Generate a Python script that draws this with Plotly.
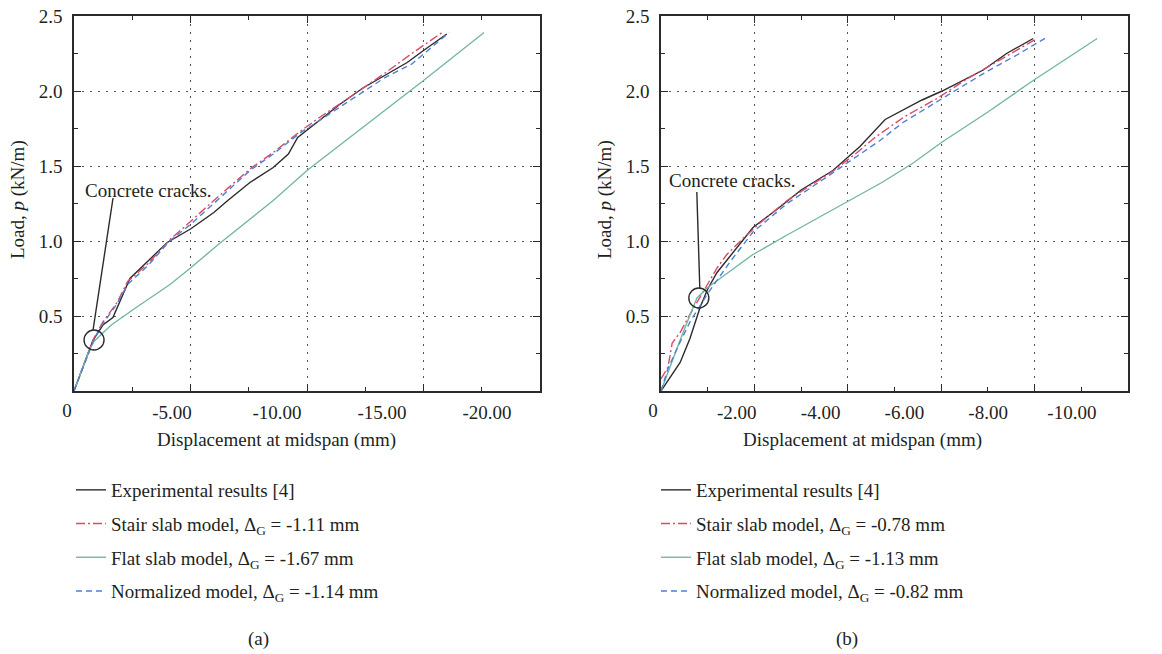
import plotly.graph_objects as go

# ---- data (displacement in mm, load in kN/m) ----
# panel (a)
exp_a_x = [0, -0.3, -0.6, -0.82, -1.24, -1.67, -2.4, -3.2, -4.0, -5.0, -6.0, -6.6, -7.55, -8.55, -9.2, -9.6, -10.4, -11.4, -12.4, -13.4, -14.3, -15.0, -16.0]
exp_a_y = [0, 0.13, 0.25, 0.34, 0.44, 0.49, 0.75, 0.87, 0.99, 1.08, 1.19, 1.27, 1.39, 1.49, 1.58, 1.69, 1.79, 1.91, 2.02, 2.11, 2.19, 2.27, 2.38]
stair_a_x = [0, -0.3, -0.6, -0.85, -1.24, -1.85, -2.3, -3.18, -4.12, -5.0, -6.0, -7.55, -8.55, -9.7, -10.5, -11.85, -13.35, -14.5, -15.8]
stair_a_y = [0, 0.13, 0.25, 0.35, 0.46, 0.59, 0.73, 0.85, 1.01, 1.13, 1.27, 1.48, 1.59, 1.73, 1.82, 1.96, 2.12, 2.25, 2.39]
flat_a_x = [0, -0.3, -0.6, -0.85, -1.24, -1.6, -2.7, -4.12, -5.0, -6.14, -8.55, -10.0, -12.5, -15.0, -17.6]
flat_a_y = [0, 0.13, 0.25, 0.33, 0.39, 0.44, 0.56, 0.71, 0.82, 0.97, 1.27, 1.47, 1.77, 2.07, 2.39]
norm_a_x = [0, -0.3, -0.6, -0.85, -1.2, -1.8, -2.3, -3.2, -4.1, -5.0, -6.0, -7.55, -8.55, -9.7, -10.5, -11.85, -13.35, -14.5, -16.1]
norm_a_y = [0, 0.12, 0.24, 0.34, 0.44, 0.57, 0.71, 0.84, 1.0, 1.11, 1.25, 1.47, 1.58, 1.72, 1.8, 1.94, 2.09, 2.18, 2.39]

# panel (b)
exp_b_x = [0, -0.41, -0.62, -0.84, -1.0, -1.2, -1.97, -2.48, -3.0, -3.68, -4.26, -4.8, -5.59, -6.02, -6.9, -7.4, -7.97]
exp_b_y = [0, 0.19, 0.35, 0.56, 0.68, 0.79, 1.09, 1.21, 1.34, 1.47, 1.63, 1.81, 1.94, 2.0, 2.14, 2.25, 2.35]
stair_b_x = [0, -0.15, -0.24, -0.41, -0.6, -0.9, -1.2, -1.41, -1.73, -2.12, -2.7, -3.2, -3.7, -4.2, -4.58, -5.22, -5.91, -6.55, -7.26, -8.05]
stair_b_y = [0.08, 0.16, 0.32, 0.39, 0.5, 0.66, 0.82, 0.91, 1.01, 1.12, 1.27, 1.37, 1.47, 1.59, 1.69, 1.83, 1.95, 2.08, 2.21, 2.35]
flat_b_x = [0, -0.2, -0.41, -0.6, -0.77, -1.0, -1.26, -1.97, -2.7, -3.4, -4.05, -4.73, -5.4, -6.02, -7.0, -7.97, -9.34]
flat_b_y = [0, 0.17, 0.34, 0.49, 0.62, 0.69, 0.75, 0.91, 1.04, 1.16, 1.27, 1.39, 1.52, 1.66, 1.86, 2.07, 2.35]
norm_b_x = [0, -0.15, -0.4, -0.62, -1.0, -1.5, -1.97, -2.7, -3.47, -4.33, -4.69, -5.18, -5.7, -6.34, -6.98, -7.62, -8.27]
norm_b_y = [0, 0.15, 0.32, 0.46, 0.65, 0.87, 1.06, 1.25, 1.41, 1.59, 1.67, 1.79, 1.89, 2.01, 2.13, 2.24, 2.36]

crack_a = (-0.86, 0.34)
crack_b = (-0.81, 0.62)

delta_a = ['-1.11', '-1.67', '-1.14']
delta_b = ['-0.78', '-1.13', '-0.82']

xticks_a = [0, -5, -10, -15, -20]
xticks_b = [0, -2, -4, -6, -8, -10]
yticks = [0, 0.5, 1.0, 1.5, 2.0, 2.5]

FONT = "Liberation Serif"
TXT = "#231f20"
BLACK = "#2b2b2b"
RED = "#d94a66"
GREEN = "#74b6a5"
BLUE = "#4f80d2"

W, H = 1162, 654


def px_x(p):
    return p / W


def px_y(p):
    return 1 - p / H


def fmt_x(v):
    return '0' if v == 0 else f'{v:.2f}'


fig = go.Figure()


def add_series(xs, ys, name, color, dash, xa, ya, legend):
    fig.add_trace(go.Scatter(
        x=xs, y=ys, name=name, mode='lines', xaxis=xa, yaxis=ya, legend=legend,
        legendgroup=f'{legend}-{name}',
        line=dict(color=color, width=1.4, dash=dash),
    ))


add_series(exp_a_x, exp_a_y, 'Experimental results [4]', BLACK, 'solid', 'x', 'y', 'legend')
add_series(stair_a_x, stair_a_y, f'Stair slab model, Δ<sub>G</sub> = {delta_a[0]} mm', RED, '9px,3px,2px,3px', 'x', 'y', 'legend')
add_series(flat_a_x, flat_a_y, f'Flat slab model, Δ<sub>G</sub> = {delta_a[1]} mm', GREEN, 'solid', 'x', 'y', 'legend')
add_series(norm_a_x, norm_a_y, f'Normalized model, Δ<sub>G</sub> = {delta_a[2]} mm', BLUE, '6px,4px', 'x', 'y', 'legend')

add_series(exp_b_x, exp_b_y, 'Experimental results [4]', BLACK, 'solid', 'x2', 'y2', 'legend2')
add_series(stair_b_x, stair_b_y, f'Stair slab model, Δ<sub>G</sub> = {delta_b[0]} mm', RED, '9px,3px,2px,3px', 'x2', 'y2', 'legend2')
add_series(flat_b_x, flat_b_y, f'Flat slab model, Δ<sub>G</sub> = {delta_b[1]} mm', GREEN, 'solid', 'x2', 'y2', 'legend2')
add_series(norm_b_x, norm_b_y, f'Normalized model, Δ<sub>G</sub> = {delta_b[2]} mm', BLUE, '6px,4px', 'x2', 'y2', 'legend2')

# invisible carriers so the offset tick-label axes get drawn
for xa, ya, vals in [('x3', 'y', xticks_a), ('x4', 'y2', xticks_b)]:
    fig.add_trace(go.Scatter(x=vals, y=[0] * len(vals), xaxis=xa, yaxis=ya, mode='markers',
                             marker=dict(opacity=0), showlegend=False, hoverinfo='skip'))

tick_font = dict(family=FONT, size=19, color=TXT)
grid = dict(showgrid=True, gridcolor='#555555', gridwidth=1.1, griddash='2px,6px')
frame = dict(showline=True, linecolor=BLACK, linewidth=1.6, mirror='ticks', automargin=False,
             ticks='inside', ticklen=7, tickwidth=1.3, tickcolor=BLACK, zeroline=False)


def x_main(domain, vals, rng, shift):
    # only the "0" label lives on the main axis; the rest sit on the offset label axis
    return dict(domain=domain, range=rng, tickvals=vals,
                ticktext=[fmt_x(v) if v == 0 else '' for v in vals],
                tickfont=tick_font, ticklabelshift=shift, ticklabelstandoff=1,
                minor=dict(ticks='inside', ticklen=4, tickcolor=BLACK,
                           dtick=(vals[0] - vals[1]) / 2, showgrid=False),
                **grid, **frame)


def x_labels(overlay, anchor, rng, vals):
    return dict(overlaying=overlay, anchor=anchor, side='bottom', range=rng,
                tickvals=[v for v in vals if v != 0],
                ticktext=[fmt_x(v) for v in vals if v != 0],
                showgrid=False, showline=False, zeroline=False, ticks='', automargin=False,
                ticklabelstandoff=8, tickfont=tick_font)


def y_main(domain, anchor):
    return dict(domain=domain, anchor=anchor, range=[0, 2.5], tickvals=yticks,
                ticktext=['' if v == 0 else f'{v:.1f}' for v in yticks],
                tickfont=tick_font, ticklabelstandoff=6,
                minor=dict(ticks='inside', ticklen=4, tickcolor=BLACK, dtick=0.25, showgrid=False),
                **grid, **frame)


legend_style = dict(xanchor='left', yanchor='top', bgcolor='rgba(0,0,0,0)',
                    font=dict(family=FONT, size=19, color=TXT), tracegroupgap=6)

ydom = [px_y(391), px_y(16)]
fig.update_layout(
    width=W, height=H,
    margin=dict(l=0, r=0, t=0, b=0),
    paper_bgcolor='white', plot_bgcolor='white',
    font=dict(family=FONT, size=19, color=TXT),
    xaxis=dict(anchor='y', **x_main([px_x(74), px_x(540)], xticks_a, [0, -20], 7)),
    yaxis=y_main(ydom, 'x'),
    xaxis2=dict(anchor='y2', **x_main([px_x(661), px_x(1128)], xticks_b, [0, -10], 8)),
    yaxis2=y_main(ydom, 'x2'),
    xaxis3=x_labels('x', 'y', [-0.333, -22.52], xticks_a),
    xaxis4=x_labels('x2', 'y2', [-0.19, -11.34], xticks_b),
    legend=dict(x=px_x(71), y=px_y(471), **legend_style),
    legend2=dict(x=px_x(656), y=px_y(471), **legend_style),
    showlegend=True,
)

# circles marking crack onset and their labels
for crack, xr, yr, line_pts, shift in [
    (crack_a, 'x', 'y', (-1, 10, 19, 142), (54, 150)),
    (crack_b, 'x2', 'y2', (1, 9, -2, 106), (34, 118)),
]:
    fig.add_shape(type='circle', xref=xr, yref=yr, xsizemode='pixel', ysizemode='pixel',
                  xanchor=crack[0], yanchor=crack[1], x0=-10, x1=10, y0=-10, y1=10,
                  line=dict(color=BLACK, width=1.4))
    fig.add_shape(type='line', xref=xr, yref=yr, xsizemode='pixel', ysizemode='pixel',
                  xanchor=crack[0], yanchor=crack[1], x0=line_pts[0], y0=line_pts[1],
                  x1=line_pts[2], y1=line_pts[3], line=dict(color=BLACK, width=1.4))
    fig.add_annotation(x=crack[0], y=crack[1], xref=xr, yref=yr, text='Concrete cracks.',
                       showarrow=False, xshift=shift[0], yshift=shift[1],
                       xanchor='center', yanchor='middle',
                       font=dict(family=FONT, size=19, color=TXT))

# axis titles and panel labels
paper_text = dict(xref='paper', yref='paper', showarrow=False, xanchor='center', yanchor='middle')
for cx in [276, 862]:
    fig.add_annotation(x=px_x(cx), y=px_y(440), text='Displacement at midspan (mm)', **paper_text)
for cx in [18, 605]:
    fig.add_annotation(x=px_x(cx), y=px_y(200), textangle=-90, text='Load, <i>p</i> (kN/m)', **paper_text)
for cx, label in [(258, '(a)'), (847, '(b)')]:
    fig.add_annotation(x=px_x(cx), y=px_y(639), text=label, **paper_text)

fig.write_html("out.html", config={'displayModeBar': False},
               post_script="document.body.style.margin='0px';")
